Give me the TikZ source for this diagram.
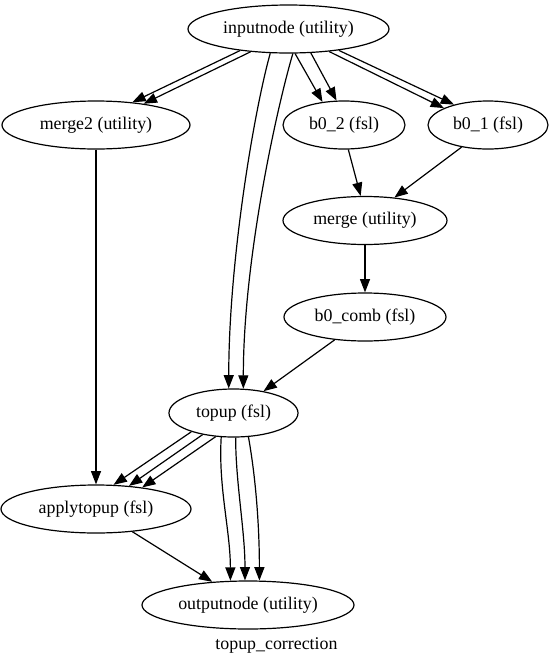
\documentclass[tikz,border=0pt]{standalone}
\usepackage{fontspec}
\setmainfont{Liberation Serif}
\usetikzlibrary{shapes.geometric,arrows.meta}
\begin{document}
\begin{tikzpicture}[x=0.75pt,y=-0.75pt,
  gnode/.style={ellipse,draw,line width=0.9pt,inner sep=0pt,minimum height=36pt,font=\fontsize{13.4}{16}\selectfont},
  gedge/.style={draw,line width=0.9pt,-{Triangle[length=10pt,width=7.5pt]}},
  glabel/.style={inner sep=0pt,font=\fontsize{13.4}{16}\selectfont}]
\useasboundingbox (0,0) rectangle (555,665);
\node[gnode,minimum width=150.75pt] (inputnode) at (288.5,29) {inputnode (utility)};
\node[gnode,minimum width=141pt] (merge2) at (96,125) {merge2 (utility)};
\node[gnode,minimum width=91.5pt] (b02) at (344,125) {b0\_2 (fsl)};
\node[gnode,minimum width=90pt] (b01) at (488,125) {b0\_1 (fsl)};
\node[gnode,minimum width=123pt] (merge) at (365,220.5) {merge (utility)};
\node[gnode,minimum width=121.5pt] (b0comb) at (365,317) {b0\_comb (fsl)};
\node[gnode,minimum width=96.75pt] (topup) at (233.5,413) {topup (fsl)};
\node[gnode,minimum width=142.5pt] (applytopup) at (96,509) {applytopup (fsl)};
\node[gnode,minimum width=159pt] (outputnode) at (248,605) {outputnode (utility)};
\node[glabel] (graphlabel) at (276.5,645) {topup\_correction};

\draw[gedge] (inputnode.204) -- (merge2.32);
\draw[gedge] (inputnode.211) -- (merge2.24);
\draw[gedge] (inputnode.233) .. controls +(-16,57) and +(0,-128) .. (topup.101);
\draw[gedge] (inputnode.280) .. controls +(-16.7,57) and +(0,-128) .. (topup.68);
\draw[gedge] (inputnode.285) -- (b02.133);
\draw[gedge] (inputnode.313) -- (b02.107);
\draw[gedge] (inputnode.331) -- (b01.159);
\draw[gedge] (inputnode.337) -- (b01.149);
\draw[gedge] (merge2) -- (applytopup);
\draw[gedge] (b02.280) -- (merge.100);
\draw[gedge] (b01.220) -- (merge.38);
\draw[gedge] (merge) -- (b0comb);
\draw[gedge] (b0comb.217) -- (topup.36);
\draw[gedge] (topup.204) -- (applytopup.54);
\draw[gedge] (topup.215) -- (applytopup.35);
\draw[gedge] (topup.233) -- (applytopup.25);
\draw[gedge] (topup.243) .. controls +(-3,50) and +(0,-50) .. (outputnode.126);
\draw[gedge] (topup.275) .. controls +(0,45) and +(0,-50) .. (outputnode.97);
\draw[gedge] (topup.302) .. controls +(8,45) and +(0,-50) .. (outputnode.65);
\draw[gedge] (applytopup.328) -- (outputnode.147);
\end{tikzpicture}
\end{document}
